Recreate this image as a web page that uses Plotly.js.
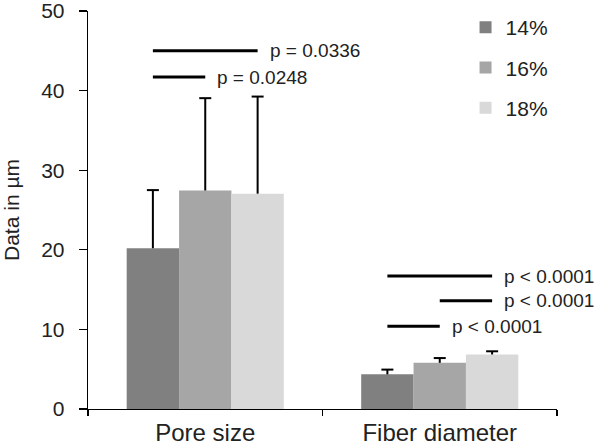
<!DOCTYPE html>
<html>
<head>
<meta charset="utf-8">
<script src="https://cdn.plot.ly/plotly-3.0.1.min.js"></script>
<style>html,body{margin:0;padding:0;background:#fff;} #chart{width:600px;height:446px;}</style>
</head>
<body>
<div id="chart"></div>
<script>
// Data
const categories = ["Pore size", "Fiber diameter"];
const seriesNames = ["14%", "16%", "18%"];
const seriesColors = ["#808080", "#a6a6a6", "#d9d9d9"];
const means14 = [20.2, 4.35];
const means16 = [27.45, 5.8];
const means18 = [27.05, 6.85];
const sd14 = [7.3, 0.6];
const sd16 = [11.6, 0.6];
const sd18 = [12.2, 0.4];
// significance brackets: category index, from-series index, to-series index, height, label
const sigCat = [0, 0, 1, 1, 1];
const sigFrom = [0, 0, 0, 1, 0];
const sigTo = [2, 1, 2, 2, 1];
const sigY = [45.0, 41.7, 16.7, 13.6, 10.4];
const sigLabel = ["p = 0.0336", "p = 0.0248", "p < 0.0001", "p < 0.0001", "p < 0.0001"];

const bargap = 0.33;
const means = [means14, means16, means18];
const sds = [sd14, sd16, sd18];
const traces = seriesNames.map((name, i) => ({
  type: "bar",
  name: name,
  legendgroup: "g" + i,
  x: categories,
  y: means[i],
  marker: {color: seriesColors[i], line: {width: 0}},
  error_y: {type: "data", symmetric: false, array: sds[i], arrayminus: sds[i].map(() => 0),
            color: "#000", thickness: 2, width: 0}
}));

const barUnit = (1 - bargap) / seriesNames.length;
const barCenter = (c, s) => c + (s - (seriesNames.length - 1) / 2) * barUnit;
const shapes = [];
const annotations = [];
// error-bar caps (upper only)
for (let s = 0; s < seriesNames.length; s++) {
  for (let c = 0; c < categories.length; c++) {
    const top = means[s][c] + sds[s][c];
    shapes.push({type: "line", xref: "x", yref: "y", xsizemode: "pixel", xanchor: barCenter(c, s),
                 x0: -6, x1: 6, y0: top, y1: top, line: {color: "#000", width: 2}});
  }
}
for (let k = 0; k < sigY.length; k++) {
  const x0 = barCenter(sigCat[k], sigFrom[k]);
  const x1 = barCenter(sigCat[k], sigTo[k]);
  shapes.push({type: "line", xref: "x", yref: "y", x0: x0, x1: x1, y0: sigY[k], y1: sigY[k],
               line: {color: "#000", width: 3}});
  annotations.push({xref: "x", yref: "y", x: x1, y: sigY[k], text: sigLabel[k], showarrow: false,
                    xanchor: "left", yanchor: "middle", xshift: 10,
                    font: {size: 19, color: "#222"}});
}

const font = "Liberation Sans, Arial, sans-serif";
const layout = {
  width: 600, height: 446,
  margin: {l: 88, r: 43, t: 11, b: 37, autoexpand: false},
  paper_bgcolor: "#fff", plot_bgcolor: "#fff",
  font: {family: font, color: "#222", size: 21},
  barmode: "group",
  bargap: bargap,
  bargroupgap: 0,
  showlegend: true,
  legend: {x: 0.805, y: 1.01, xanchor: "left", yanchor: "top", font: {size: 21},
           tracegroupgap: 10, bgcolor: "rgba(0,0,0,0)"},
  xaxis: {type: "category", range: [-0.5, 1.5], showline: true, linecolor: "#000", linewidth: 1.3,
          ticks: "outside", tickson: "boundaries", ticklen: 6, tickcolor: "#000", tickwidth: 1.3,
          ticklabelstandoff: 2, tickfont: {size: 24}, showgrid: false, zeroline: false},
  yaxis: {range: [0, 50], dtick: 10, showline: true, linecolor: "#000", linewidth: 1.3,
          ticks: "outside", ticklen: 8, tickcolor: "#000", tickwidth: 1.3, ticklabelstandoff: 10,
          ticklabeloverflow: "allow", tickfont: {size: 21}, showgrid: false, zeroline: false,
          title: {text: "Data in µm", font: {size: 21}, standoff: 15}},
  shapes: shapes,
  annotations: annotations
};
Plotly.newPlot("chart", traces, layout, {displayModeBar: false, staticPlot: true});
</script>
</body>
</html>
